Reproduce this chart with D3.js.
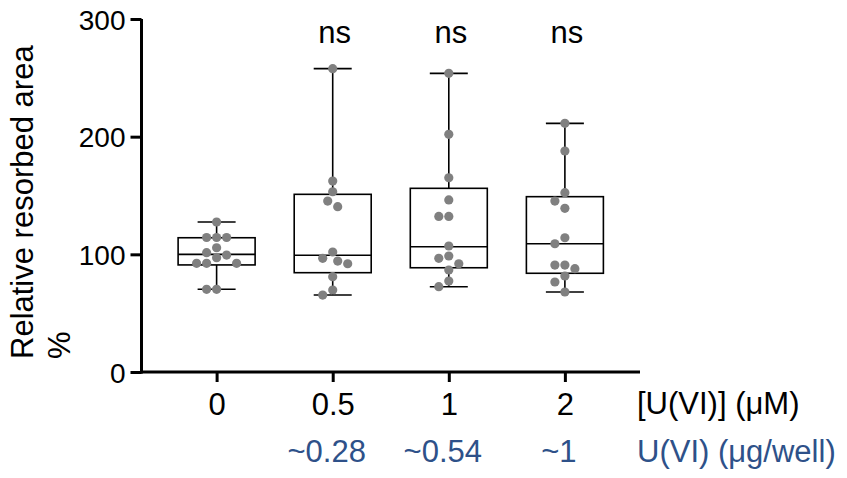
<!DOCTYPE html>
<html>
<head>
<meta charset="utf-8">
<script src="https://cdn.jsdelivr.net/npm/d3@7"></script>
<style>
  html, body { margin: 0; padding: 0; background: #fff; }
  svg { display: block; font-family: "Liberation Sans", Arial, Helvetica, sans-serif; }
</style>
</head>
<body>
<svg id="chart" width="847" height="478"></svg>
<script>
// ---- data ----
const groups = ["0", "0.5", "1", "2"];
const doseLabels = ["", "~0.28", "~0.54", "~1"];
const signif = ["", "ns", "ns", "ns"];
const yTicks = [0, 100, 200, 300];

const values0  = [127.5, 114.3, 114.3, 114.3, 105.6, 101.4, 99.4, 97.1, 92.4, 92.4, 92.4, 70.3, 70.3];
const values05 = [257.8, 162.3, 153.2, 145.3, 140.5, 102.0, 96.6, 94.3, 92.0, 81.0, 69.7, 65.4];
const values1  = [253.8, 202.0, 165.1, 146.2, 132.2, 132.2, 107.1, 98.6, 96.6, 92.0, 86.7, 77.3, 72.5];
const values2  = [211.3, 187.8, 152.4, 145.3, 139.1, 114.1, 109.0, 90.9, 90.9, 87.8, 81.6, 76.5, 68.0];

const q1s     = [91.0, 84.4, 88.6, 83.9];
const medians = [100.0, 99.2, 106.5, 109.0];
const q3s     = [114.1, 151.0, 156.1, 149.0];

const seriesValues = [values0, values05, values1, values2];

// ---- layout ----
const svg = d3.select("#chart");
const axisX0 = 141.5, axisX1 = 640;
const yBottom = 372, yTop = 19;

const x = d3.scalePoint().domain(groups).range([axisX0, axisX1]).padding(0.647);
const y = d3.scaleLinear().domain([0, 300]).range([yBottom, yTop]);

const boxW = 77, capW = 38, dotR = 4.6;
const textColor = "#000";
const blue = "#2e5189";

// boxes + whiskers
groups.forEach((g, i) => {
  const cx = x(g);
  const vals = seriesValues[i];
  const lo = d3.min(vals), hi = d3.max(vals);
  const gEl = svg.append("g").attr("fill", "none").attr("stroke", "#000").attr("stroke-width", 1.6);
  // whiskers
  gEl.append("line").attr("x1", cx).attr("x2", cx).attr("y1", y(q3s[i])).attr("y2", y(hi));
  gEl.append("line").attr("x1", cx).attr("x2", cx).attr("y1", y(q1s[i])).attr("y2", y(lo));
  gEl.append("line").attr("x1", cx - capW / 2).attr("x2", cx + capW / 2).attr("y1", y(hi)).attr("y2", y(hi));
  gEl.append("line").attr("x1", cx - capW / 2).attr("x2", cx + capW / 2).attr("y1", y(lo)).attr("y2", y(lo));
  // box
  gEl.append("rect").attr("x", cx - boxW / 2).attr("y", y(q3s[i]))
    .attr("width", boxW).attr("height", y(q1s[i]) - y(q3s[i])).attr("fill", "#fff");
  gEl.append("line").attr("x1", cx - boxW / 2).attr("x2", cx + boxW / 2)
    .attr("y1", y(medians[i])).attr("y2", y(medians[i]));
});

// beeswarm dots
function swarm(vals, cx) {
  const placed = [];
  const minD = dotR * 2 + 0.8;
  const sorted = vals.slice().sort((a, b) => b - a);
  const cands = [0];
  for (let k = 1; k <= 8; k++) { cands.push(-5 * k, 5 * k); }
  sorted.forEach(v => {
    const py = y(v);
    for (const off of cands) {
      const px = cx + off;
      const ok = placed.every(p => Math.hypot(p.x - px, p.y - py) >= minD);
      if (ok) { placed.push({ x: px, y: py }); break; }
    }
  });
  return placed;
}
groups.forEach((g, i) => {
  const pts = swarm(seriesValues[i], x(g));
  svg.append("g").selectAll("circle").data(pts).join("circle")
    .attr("cx", d => d.x).attr("cy", d => d.y).attr("r", dotR)
    .attr("fill", "#808080");
});

// y axis
const yAxis = d3.axisLeft(y).tickValues(yTicks).tickSize(11).tickPadding(5).tickSizeOuter(0);
const ya = svg.append("g").attr("transform", `translate(${axisX0},0)`).call(yAxis);
ya.select(".domain").attr("stroke", "#000").attr("stroke-width", 3).attr("d", `M0,${yBottom + 1.5}V${yTop}`);
ya.selectAll(".tick line").attr("stroke", "#000").attr("stroke-width", 3);
ya.selectAll(".tick text").attr("font-size", 28).attr("fill", textColor)
  .attr("font-family", "'Liberation Sans', Arial, sans-serif").attr("dy", "0.36em");

// x axis
const xAxis = d3.axisBottom(x).tickSize(10).tickSizeOuter(0);
const xa = svg.append("g").attr("transform", `translate(0,${yBottom})`).call(xAxis);
xa.select(".domain").attr("stroke", "#000").attr("stroke-width", 3).attr("d", `M${axisX0 - 1.5},0H${axisX1}`);
xa.selectAll(".tick line").attr("stroke", "#000").attr("stroke-width", 3);
xa.selectAll(".tick text").attr("font-size", 31).attr("fill", textColor)
  .attr("font-family", "'Liberation Sans', Arial, sans-serif").attr("y", 43).attr("dy", 0);

// x axis title lines
svg.append("text").attr("x", 637).attr("y", 414).attr("font-size", 31).attr("fill", textColor)
  .text("[U(VI)] (μM)");
svg.append("text").attr("x", 637).attr("y", 462).attr("font-size", 31).attr("fill", blue)
  .text("U(VI) (μg/well)");

// dose labels
svg.append("g").selectAll("text").data(groups).join("text")
  .attr("x", g => x(g) - 6).attr("y", 462).attr("text-anchor", "middle")
  .attr("font-size", 31).attr("fill", blue)
  .text((g, i) => doseLabels[i]);

// significance labels
svg.append("g").selectAll("text").data(groups).join("text")
  .attr("x", g => x(g) + 2).attr("y", 43).attr("text-anchor", "middle")
  .attr("font-size", 31).attr("fill", textColor)
  .text((g, i) => signif[i]);

// y axis title
const yt = svg.append("text").attr("transform", "rotate(-90)").attr("font-size", 31).attr("fill", textColor);
yt.append("tspan").attr("x", -359).attr("y", 33).text("Relative resorbed area");
yt.append("tspan").attr("x", -359).attr("y", 70).text("%");
</script>
</body>
</html>
